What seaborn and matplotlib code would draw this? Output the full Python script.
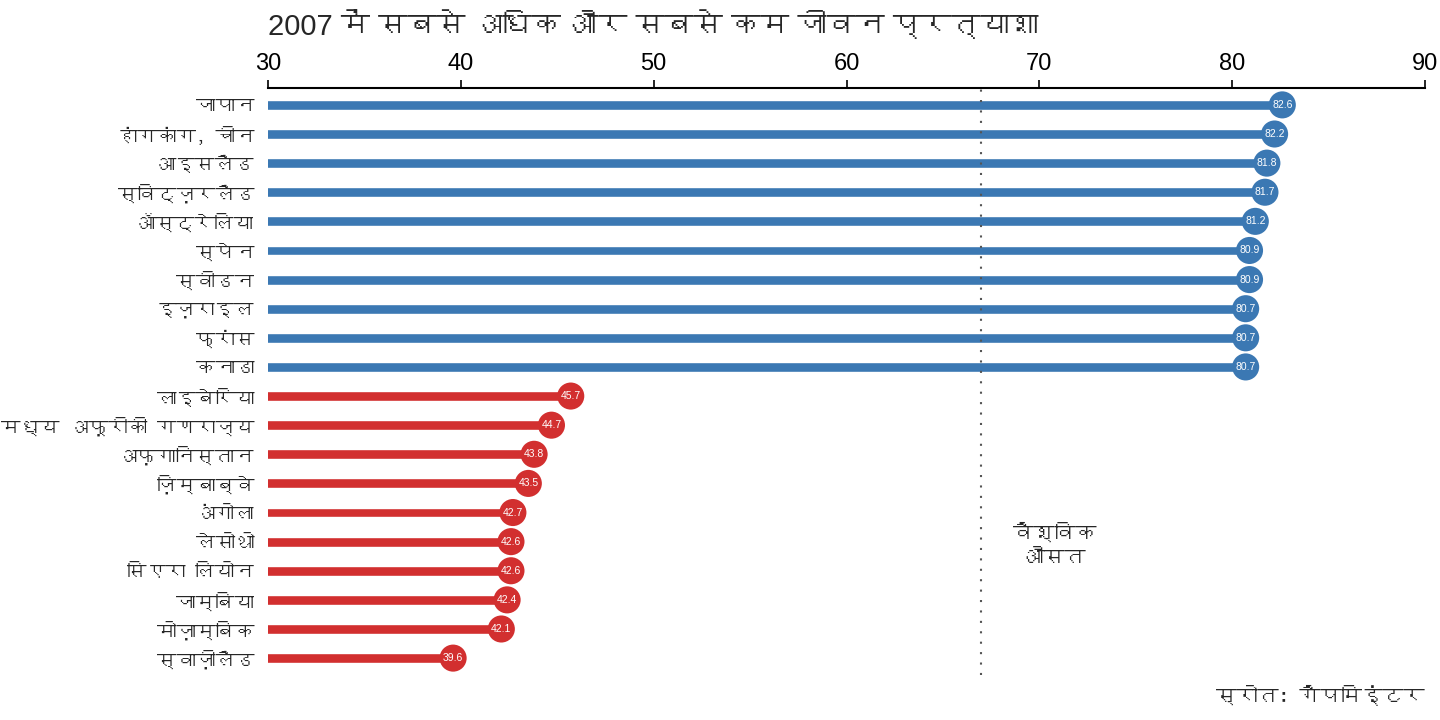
import matplotlib
matplotlib.use("Agg")
import matplotlib.pyplot as plt
from matplotlib import font_manager
from matplotlib.ft2font import FT2Font
import pandas as pd
import seaborn as sns

# ------------------------------
# data
# ------------------------------
top_countries = ["जापान", "हांगकांग, चीन", "आइसलैंड", "स्विट्ज़रलैंड", "ऑस्ट्रेलिया",
                 "स्पेन", "स्वीडन", "इज़राइल", "फ्रांस", "कनाडा"]
top_values = [82.6, 82.2, 81.8, 81.7, 81.2, 80.9, 80.9, 80.7, 80.7, 80.7]

bottom_countries = ["लाइबेरिया", "मध्य अफ़्रीकी गणराज्य", "अफ़गानिस्तान", "ज़िम्बाब्वे", "अंगोला",
                    "लेसोथो", "सिएरा लियोन", "जाम्बिया", "मोज़ाम्बिक", "स्वाज़ीलैंड"]
bottom_values = [45.7, 44.7, 43.8, 43.5, 42.7, 42.6, 42.6, 42.4, 42.1, 39.6]

world_avg = 67.0
x_ticks = [30, 40, 50, 60, 70, 80, 90]

title = "2007 में सबसे अधिक और सबसे कम जीवन प्रत्याशा"
avg_label = "वैश्विक\nऔसत"
source = "स्रोत: गैपमिइंटर"

blue = "#3b78b3"
red = "#d22f2f"

df = pd.DataFrame({
    "country": top_countries + bottom_countries,
    "life_exp": top_values + bottom_values,
    "group": ["top"] * len(top_values) + ["bottom"] * len(bottom_values),
})

# ------------------------------
# fonts: find something that has Devanagari
# ------------------------------
deva = []
for f in font_manager.fontManager.ttflist:
    try:
        if FT2Font(f.fname).get_char_index(0x0915):
            if f.name not in deva:
                deva.append(f.name)
    except Exception:
        pass

sns.set_theme(style="white")
plt.rcParams["font.family"] = deva + ["DejaVu Sans"]
num_font = ["Liberation Sans Narrow", "Liberation Sans"] + deva + ["DejaVu Sans"]

# ------------------------------
# plot
# ------------------------------
fig = plt.figure(figsize=(14.4, 7.2), dpi=100)
ax = fig.add_axes([268 / 1440, 1 - 675 / 720, (1425 - 268) / 1440, (675 - 88) / 720])

sns.barplot(data=df, y="country", x="life_exp", hue="group",
            palette={"top": blue, "bottom": red}, orient="h",
            width=0.34, dodge=False, legend=False, ax=ax, saturation=1)
sns.scatterplot(data=df, y="country", x="life_exp", hue="group",
                palette={"top": blue, "bottom": red}, s=380,
                edgecolor="none", legend=False, ax=ax, zorder=3)

for i, v in enumerate(df["life_exp"]):
    ax.text(v, i, f"{v:.1f}", color="white", fontsize=7.5, ha="center", va="center",
            zorder=4, family=["Liberation Sans"])

ax.axvline(world_avg, color="#555555", linestyle=(0, (1, 4)), linewidth=1.5, zorder=1)
ax.text(world_avg + 3.8, 15.1, avg_label, ha="center", va="center", fontsize=15,
        linespacing=1.4)

ax.set_xlim(30, 90)
ax.set_ylim(len(df) - 0.42, -0.58)
ax.xaxis.tick_top()
ax.set_xticks(x_ticks)
ax.set_xticklabels([str(t) for t in x_ticks], fontsize=17, family=num_font)
ax.tick_params(axis="x", direction="out", length=6, width=1.2, colors="black", pad=3)
ax.tick_params(axis="y", length=0, pad=10, labelsize=14)
ax.set_xlabel("")
ax.set_ylabel("")

for s in ["right", "bottom", "left"]:
    ax.spines[s].set_visible(False)
ax.spines["top"].set_color("black")
ax.spines["top"].set_linewidth(1.5)

fig.text(268 / 1440, 1 - 26 / 720, title, fontsize=21, ha="left", va="center",
         family=num_font)
fig.text(1425 / 1440, 1 - 695 / 720, source, fontsize=15, ha="right", va="center")

fig.savefig("out.png", dpi=100, facecolor="white")
